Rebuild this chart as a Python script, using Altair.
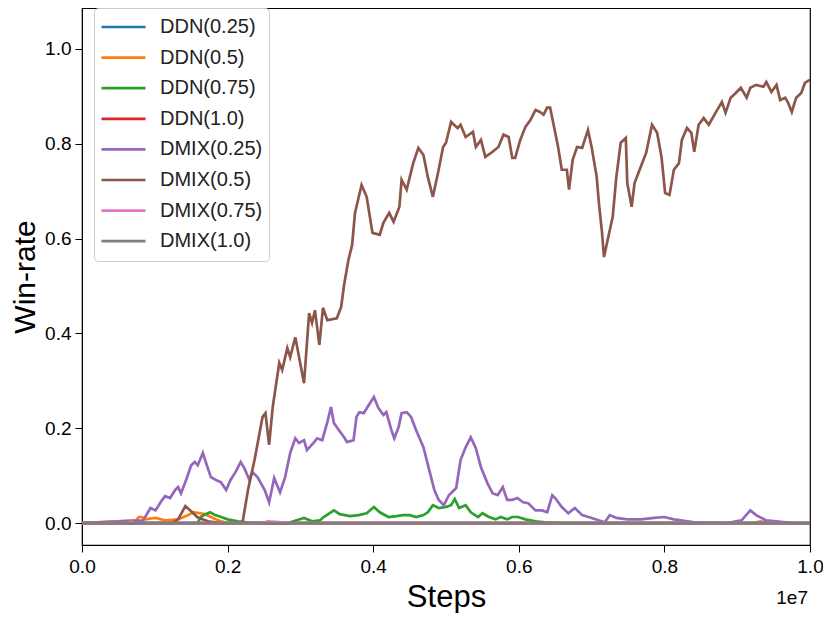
import altair as alt
import pandas as pd

# x values are in units of 1e7 environment steps (axis offset "1e7")
series_names = ["DDN(0.25)", "DDN(0.5)", "DDN(0.75)", "DDN(1.0)",
                "DMIX(0.25)", "DMIX(0.5)", "DMIX(0.75)", "DMIX(1.0)"]
series_colors = ["#1f77b4", "#ff7f0e", "#2ca02c", "#d62728",
                 "#9467bd", "#8c564b", "#e377c2", "#7f7f7f"]

ddn025_x = [0.0, 1.0]
ddn025_y = [0.0, 0.0]

ddn05_x = [0.0, 0.074, 0.078, 0.082, 0.087, 0.101, 0.114, 0.132, 0.146, 0.153, 0.162,
           0.169, 0.177, 0.187, 0.200, 0.922, 0.932, 0.943, 1.0]
ddn05_y = [0.0, 0.006, 0.013, 0.013, 0.008, 0.011, 0.006, 0.008, 0.017, 0.023, 0.021,
           0.019, 0.013, 0.006, 0.0, 0.0, 0.004, 0.0, 0.0]

ddn075_x = [0.0, 0.159, 0.163, 0.170, 0.176, 0.183, 0.191, 0.200, 0.214, 0.228, 0.282,
            0.305, 0.316, 0.327, 0.332, 0.346, 0.354, 0.368, 0.380, 0.391, 0.401,
            0.409, 0.421, 0.432, 0.441, 0.450, 0.459, 0.469, 0.475, 0.482, 0.490,
            0.500, 0.507, 0.512, 0.518, 0.527, 0.534, 0.544, 0.550, 0.559, 0.568,
            0.575, 0.584, 0.591, 0.599, 0.609, 0.623, 0.636, 0.663, 1.0]
ddn075_y = [0.0, 0.0, 0.013, 0.019, 0.023, 0.017, 0.013, 0.008, 0.004, 0.001, 0.0,
            0.011, 0.004, 0.006, 0.013, 0.027, 0.019, 0.015, 0.017, 0.021, 0.034,
            0.023, 0.013, 0.015, 0.017, 0.017, 0.013, 0.017, 0.023, 0.038, 0.032,
            0.034, 0.038, 0.051, 0.032, 0.038, 0.023, 0.013, 0.021, 0.013, 0.008,
            0.013, 0.008, 0.013, 0.013, 0.008, 0.004, 0.002, 0.0, 0.0]

ddn10_x = [0.0, 1.0]
ddn10_y = [0.0, 0.0]

dmix025_x = [0.0, 0.084, 0.094, 0.101, 0.108, 0.114, 0.121, 0.128, 0.132, 0.136, 0.143,
             0.150, 0.155, 0.159, 0.166, 0.170, 0.177, 0.184, 0.191, 0.198, 0.204,
             0.211, 0.218, 0.223, 0.230, 0.234, 0.241, 0.251, 0.257, 0.264, 0.272,
             0.279, 0.286, 0.293, 0.298, 0.305, 0.309, 0.319, 0.323, 0.330, 0.337,
             0.342, 0.346, 0.353, 0.360, 0.364, 0.373, 0.377, 0.381, 0.387, 0.394,
             0.401, 0.407, 0.414, 0.418, 0.425, 0.429, 0.435, 0.439, 0.446, 0.452,
             0.459, 0.469, 0.477, 0.484, 0.490, 0.497, 0.504, 0.514, 0.520, 0.527,
             0.534, 0.541, 0.548, 0.557, 0.564, 0.571, 0.578, 0.584, 0.591, 0.598,
             0.606, 0.613, 0.623, 0.632, 0.639, 0.646, 0.650, 0.659, 0.668, 0.677,
             0.687, 0.700, 0.718, 0.725, 0.734, 0.749, 0.768, 0.786, 0.800, 0.813,
             0.841, 0.886, 0.906, 0.918, 0.926, 0.940, 0.977, 1.0]
dmix025_y = [0.0, 0.006, 0.032, 0.027, 0.044, 0.057, 0.053, 0.070, 0.076, 0.063, 0.091,
             0.122, 0.129, 0.122, 0.148, 0.129, 0.097, 0.091, 0.086, 0.070, 0.091,
             0.108, 0.129, 0.116, 0.091, 0.108, 0.097, 0.070, 0.044, 0.095, 0.065,
             0.097, 0.148, 0.179, 0.169, 0.175, 0.154, 0.171, 0.179, 0.175, 0.213,
             0.245, 0.211, 0.196, 0.181, 0.171, 0.175, 0.224, 0.234, 0.232, 0.249,
             0.266, 0.243, 0.228, 0.234, 0.196, 0.179, 0.203, 0.232, 0.234, 0.224,
             0.196, 0.160, 0.112, 0.070, 0.049, 0.038, 0.059, 0.074, 0.133, 0.160,
             0.181, 0.158, 0.118, 0.084, 0.063, 0.059, 0.076, 0.049, 0.049, 0.053,
             0.044, 0.042, 0.027, 0.027, 0.023, 0.059, 0.053, 0.034, 0.021, 0.032,
             0.017, 0.011, 0.002, 0.017, 0.011, 0.008, 0.008, 0.011, 0.013, 0.008,
             0.002, 0.0, 0.006, 0.027, 0.017, 0.006, 0.0, 0.0]

dmix05_x = [0.0, 0.123, 0.132, 0.142, 0.150, 0.159, 0.173, 0.191, 0.218, 0.221, 0.228,
            0.237, 0.248, 0.252, 0.257, 0.262, 0.271, 0.275, 0.282, 0.286, 0.293,
            0.305, 0.312, 0.316, 0.320, 0.326, 0.331, 0.337, 0.350, 0.356, 0.360,
            0.366, 0.371, 0.375, 0.384, 0.391, 0.399, 0.409, 0.414, 0.422, 0.428,
            0.436, 0.439, 0.446, 0.455, 0.462, 0.469, 0.475, 0.482, 0.489, 0.496,
            0.500, 0.507, 0.511, 0.516, 0.520, 0.527, 0.537, 0.541, 0.548, 0.554,
            0.564, 0.572, 0.579, 0.586, 0.591, 0.595, 0.602, 0.609, 0.616, 0.623,
            0.629, 0.634, 0.639, 0.643, 0.647, 0.654, 0.659, 0.666, 0.669, 0.674,
            0.680, 0.687, 0.695, 0.700, 0.707, 0.710, 0.714, 0.717, 0.725, 0.729,
            0.734, 0.740, 0.747, 0.749, 0.755, 0.759, 0.766, 0.775, 0.783, 0.790,
            0.796, 0.801, 0.807, 0.813, 0.820, 0.824, 0.831, 0.837, 0.841, 0.847,
            0.854, 0.861, 0.871, 0.879, 0.884, 0.891, 0.898, 0.905, 0.913, 0.918,
            0.926, 0.936, 0.940, 0.947, 0.954, 0.959, 0.966, 0.970, 0.975, 0.981,
            0.988, 0.993, 1.0]
dmix05_y = [0.0, 0.0, 0.008, 0.036, 0.025, 0.012, 0.004, 0.0, 0.0, 0.006, 0.070,
            0.133, 0.224, 0.232, 0.165, 0.245, 0.338, 0.323, 0.369, 0.350, 0.392,
            0.295, 0.443, 0.422, 0.449, 0.376, 0.454, 0.428, 0.432, 0.456, 0.502,
            0.555, 0.586, 0.654, 0.713, 0.688, 0.612, 0.608, 0.633, 0.654, 0.635,
            0.667, 0.724, 0.703, 0.759, 0.791, 0.776, 0.730, 0.688, 0.738, 0.793,
            0.802, 0.846, 0.840, 0.833, 0.840, 0.814, 0.825, 0.793, 0.808, 0.772,
            0.783, 0.793, 0.819, 0.814, 0.770, 0.770, 0.808, 0.835, 0.850, 0.871,
            0.867, 0.861, 0.876, 0.876, 0.846, 0.793, 0.745, 0.745, 0.703, 0.766,
            0.793, 0.791, 0.829, 0.793, 0.730, 0.675, 0.618, 0.561, 0.618, 0.646,
            0.730, 0.802, 0.812, 0.717, 0.667, 0.717, 0.745, 0.781, 0.840, 0.823,
            0.772, 0.696, 0.692, 0.745, 0.759, 0.808, 0.833, 0.823, 0.783, 0.840,
            0.854, 0.840, 0.867, 0.888, 0.865, 0.897, 0.907, 0.918, 0.897, 0.918,
            0.924, 0.920, 0.930, 0.909, 0.924, 0.892, 0.897, 0.886, 0.867, 0.897,
            0.907, 0.928, 0.935]

dmix075_x = [0.0, 0.063, 0.067, 0.072, 0.248, 0.255, 0.275, 0.289, 1.0]
dmix075_y = [0.0, 0.0, 0.003, 0.0, 0.0, 0.004, 0.002, 0.0, 0.0]

dmix10_x = [0.0, 1.0]
dmix10_y = [0.0, 0.0]

all_x = [ddn025_x, ddn05_x, ddn075_x, ddn10_x, dmix025_x, dmix05_x, dmix075_x, dmix10_x]
all_y = [ddn025_y, ddn05_y, ddn075_y, ddn10_y, dmix025_y, dmix05_y, dmix075_y, dmix10_y]

rows = []
for i, (name, xs, ys) in enumerate(zip(series_names, all_x, all_y)):
    for s, v in zip(xs, ys):
        rows.append({"series": name, "order": i, "steps": s, "winrate": v})
df = pd.DataFrame(rows)

FONT = "Liberation Sans"
W, H = 728, 537

lines = alt.Chart(df).mark_line(strokeWidth=2.7, clip=True).encode(
    x=alt.X("steps:Q",
            scale=alt.Scale(domain=[0, 1], nice=False, zero=False),
            axis=alt.Axis(values=[0, 0.2, 0.4, 0.6, 0.8, 1.0], format=".1f",
                          title="Steps", titleFontSize=31, titleFontWeight="normal",
                          titleColor="black", titleFont=FONT, titlePadding=6,
                          labelFont=FONT, labelFontSize=19, labelColor="black",
                          labelPadding=5, tickSize=7, tickColor="black",
                          domainColor="black", grid=False, labelFlush=False)),
    y=alt.Y("winrate:Q",
            scale=alt.Scale(domain=[-0.046, 1.086], nice=False, zero=False),
            axis=alt.Axis(values=[0, 0.2, 0.4, 0.6, 0.8, 1.0], format=".1f",
                          title="Win-rate", titleFontSize=30, titleFontWeight="normal",
                          titleColor="black", titleFont=FONT, titlePadding=4,
                          labelFont=FONT, labelFontSize=19, labelColor="black",
                          labelPadding=4, tickSize=7, tickColor="black",
                          domainColor="black", grid=False)),
    color=alt.Color("series:N",
                    scale=alt.Scale(domain=series_names, range=series_colors),
                    sort=series_names,
                    legend=alt.Legend(title=None, orient="none", legendX=12, legendY=0,
                                      symbolType="stroke", symbolSize=1936,
                                      symbolStrokeWidth=2.7, clipHeight=26,
                                      rowPadding=4.6, labelFont=FONT, labelFontSize=20,
                                      labelColor="#222222", labelOffset=13, padding=6,
                                      strokeColor="#cccccc", cornerRadius=4,
                                      fillColor="rgba(255,255,255,0.8)")),
    order=alt.Order("order:Q"),
    detail="series:N",
)

offset_label = alt.Chart(pd.DataFrame({"t": ["1e7"]})).mark_text(
    font=FONT, fontSize=19, align="right", baseline="alphabetic", color="black", dx=-2
).encode(x=alt.datum(1.0), y=alt.value(H + 59), text="t:N")

chart = alt.layer(lines, offset_label).properties(
    width=W, height=H,
    autosize=alt.AutoSizeParams(type="none"),
    padding={"left": 74, "top": 0, "right": 13, "bottom": 68},
    background="white",
).configure_view(stroke="black", strokeWidth=1.2)

chart.save("out.html", embed_options={"renderer": "svg", "actions": False})
